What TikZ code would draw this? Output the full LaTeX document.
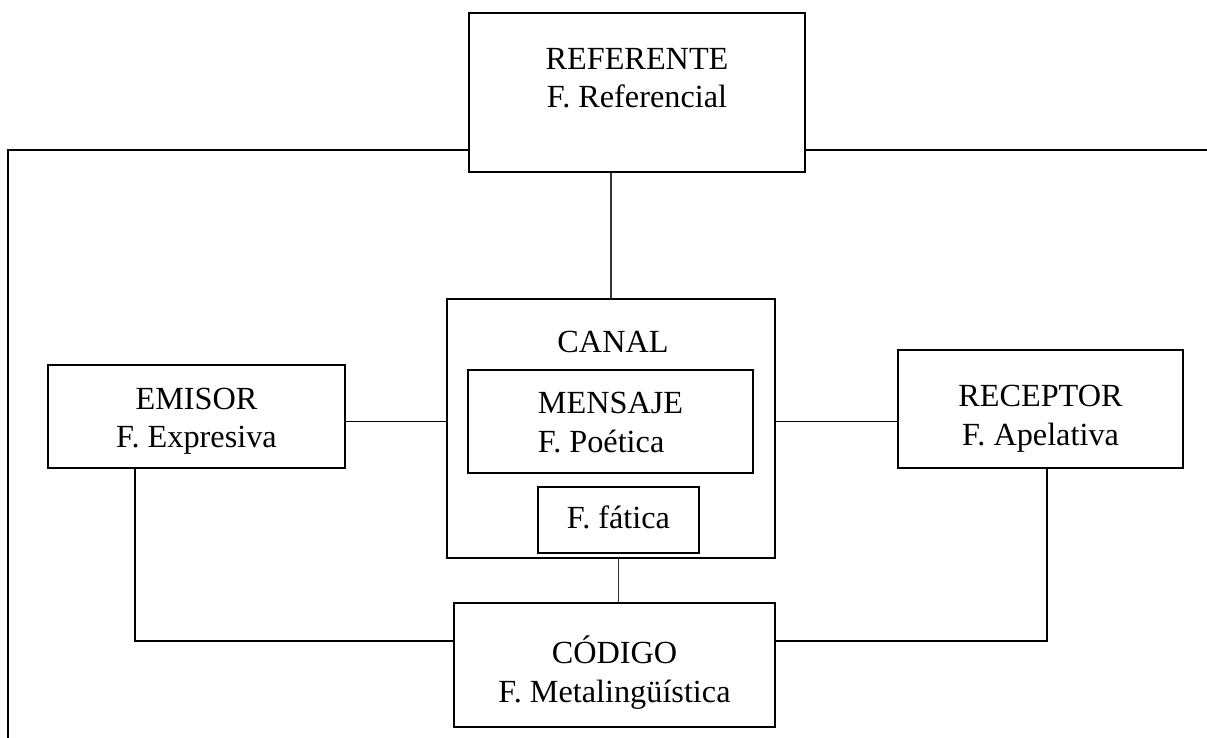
\documentclass[tikz,border=0pt]{standalone}
\usepackage{fontspec}
\setmainfont{Liberation Serif}
\usepackage{tikz}
\usetikzlibrary{positioning}
\tikzstyle{block} = [rectangle, draw, line width=1.1pt, align=center,
    inner sep=0pt, font=\fontsize{24.2}{29}\selectfont]
\tikzstyle{label_text} = [inner sep=0pt, font=\fontsize{24.2}{29}\selectfont]
\tikzstyle{lastbase} = [text height=#1, text depth=0pt]
\tikzstyle{line} = [draw, line width=1.2pt]
\tikzstyle{thin_line} = [draw, line width=0.8pt, black!80]

\begin{document}
\begin{tikzpicture}[x=0.75pt, y=-0.75pt]
    \useasboundingbox (0,0) rectangle (1207,738);
    % Place nodes
    \node [block, lastbase=23.25pt, minimum width=252pt, minimum height=119.25pt] (ref) at (637,92.5) {REFERENTE\\F. Referencial};
    \node [block, minimum width=246pt, minimum height=194.25pt] (can) at (611,428.5) {};
    \node [label_text] (canal) at (613,342) {CANAL};
    \node [block, align=left, lastbase=45.75pt, minimum width=213.75pt, minimum height=77.25pt] (mens) at (610.5,421.5) {MENSAJE\\F. Poética};
    \node [block, lastbase=12pt, minimum width=120.75pt, minimum height=49.5pt] (fat) at (618.5,520) {F. fática};
    \node [block, lastbase=47pt, minimum width=222.75pt, minimum height=77.25pt] (emi) at (196.5,416.5) {EMISOR\\F. Expresiva};
    \node [block, lastbase=54pt, minimum width=213.75pt, minimum height=88.5pt] (rec) at (1040.5,409) {RECEPTOR\\F. Apelativa};
    \node [block, lastbase=55.5pt, minimum width=240.75pt, minimum height=93pt] (cod) at (614.5,665) {CÓDIGO\\F. Metalingüística};

    \coordinate (tl) at (8,150);
    \coordinate (bl) at (8,745);
    \coordinate (tr) at (1212,150);
    \coordinate (emidown) at (135,641);
    \coordinate (recdown) at (1047,641);

    % Draw edges
    \path [line] (ref.west |- tl) -- (tl) -- (bl);
    \path [line] (ref.east |- tr) -- (tr);
    \path [thin_line] (can.north) -- (can.north |- ref.south);
    \path [line] (emi.east |- mens) -- (can.west |- mens);
    \path [line] (can.east |- mens) -- (rec.west |- mens);
    \path [thin_line] (fat.south |- can.south) -- (fat.south |- cod.north);
    \path [line] (emi.south -| emidown) |- (cod.west |- emidown);
    \path [line] (rec.south -| recdown) |- (cod.east |- recdown);
\end{tikzpicture}
\end{document}
